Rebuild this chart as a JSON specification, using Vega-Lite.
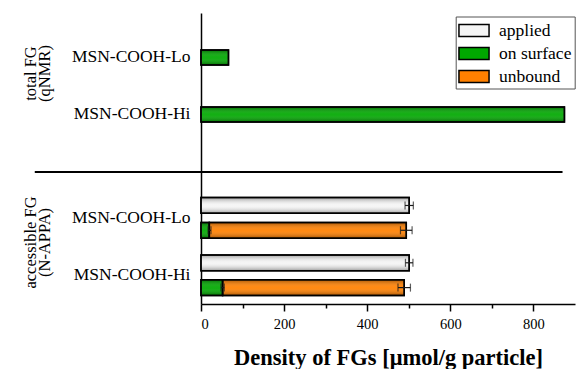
{
  "$schema": "https://vega.github.io/schema/vega-lite/v6.json",
  "padding": {"left": 22, "top": 13, "right": 0, "bottom": 0},
  "spacing": 0,
  "config": {
    "font": "Liberation Serif",
    "view": {"stroke": null},
    "axis": {"labelFont": "Liberation Serif", "titleFont": "Liberation Serif", "labelColor": "black", "titleColor": "black", "domainColor": "black", "tickColor": "black", "grid": false},
    "axisY": {"titleFontSize": 16.5, "titleFontWeight": "normal", "titleLineHeight": 14},
    "legend": {"labelFont": "Liberation Serif", "labelFontSize": 17.5, "labelColor": "black", "labelLimit": 300},
    "style": {"guide-label": {"font": "Liberation Serif"}, "guide-title": {"font": "Liberation Serif"}}
  },
  "resolve": {"scale": {"y": "independent", "color": "independent"}, "legend": {"color": "independent"}},
  "vconcat": [
    {
      "width": 374,
      "height": 158,
      "data": {"values": [
        {"sample": "MSN-COOH-Lo", "part": "on surface", "value": 65},
        {"sample": "MSN-COOH-Hi", "part": "on surface", "value": 860}
      ]},
      "layer": [
        {
          "mark": {"type": "bar", "stroke": "black", "strokeWidth": 1.5},
          "encoding": {
            "y": {"field": "sample", "type": "nominal", "sort": ["MSN-COOH-Lo", "MSN-COOH-Hi"],
              "scale": {"paddingInner": 0.737, "paddingOuter": 0.754, "align": 0.43},
              "axis": {"title": ["total FG", "(qNMR)"], "titleFontSize": 16.5, "titleFontWeight": "normal", "titleLineHeight": 14, "titlePadding": 19, "titleY": 60, "ticks": false, "labelFontSize": 17.5, "labelPadding": 11, "domainWidth": 1.5}},
            "x": {"field": "value", "type": "quantitative", "scale": {"domain": [0, 885]}, "axis": null},
            "color": {"field": "part", "type": "nominal",
              "scale": {"domain": ["applied", "on surface", "unbound"], "range": ["#f4f4f4", "#00a800", "#ff8000"]},
              "legend": {"orient": "none", "legendX": 254.7, "legendY": 3.5, "title": null, "strokeColor": "#555555", "fillColor": "white", "padding": 2.5,
                "symbolType": "M-1.4,-0.56H1.4V0.56H-1.4Z", "symbolSize": 462, "symbolStrokeColor": "black", "symbolStrokeWidth": 1.5, "symbolOffset": 4.3, "symbolOpacity": 1,
                "labelOffset": 13.5, "labelFontSize": 17.5, "labelFont": "Liberation Serif", "labelColor": "black", "rowPadding": 2, "labelLimit": 300,
                "encode": {"labels": {"update": {"font": {"value": "Liberation Serif"}, "fontSize": {"value": 17.5}, "fill": {"value": "black"}}}}}}
          }
        },
        {
          "mark": {"type": "bar", "stroke": "black", "strokeWidth": 1.5,
            "fill": {"gradient": "linear", "x1": 0, "y1": 0, "x2": 0, "y2": 1, "stops": [
              {"offset": 0, "color": "rgba(0,0,0,0.35)"},
              {"offset": 0.45, "color": "rgba(255,255,255,0.08)"},
              {"offset": 0.55, "color": "rgba(255,255,255,0.08)"},
              {"offset": 1, "color": "rgba(0,0,0,0.35)"}]}},
          "encoding": {
            "y": {"field": "sample", "type": "nominal", "sort": ["MSN-COOH-Lo", "MSN-COOH-Hi"]},
            "x": {"field": "value", "type": "quantitative", "scale": {"domain": [0, 885]}, "axis": null}
          }
        }
      ]
    },
    {
      "width": 374,
      "height": 132,
      "layer": [
        {
          "data": {"values": [
            {"sample": "MSN-COOH-Lo", "row": "applied", "part": "applied", "value": 501},
            {"sample": "MSN-COOH-Lo", "row": "found", "part": "on surface", "value": 20},
            {"sample": "MSN-COOH-Lo", "row": "found", "part": "unbound", "value": 474},
            {"sample": "MSN-COOH-Hi", "row": "applied", "part": "applied", "value": 501},
            {"sample": "MSN-COOH-Hi", "row": "found", "part": "on surface", "value": 52},
            {"sample": "MSN-COOH-Hi", "row": "found", "part": "unbound", "value": 437}
          ]},
          "transform": [{"stack": "value", "groupby": ["sample", "row"], "sort": [{"field": "part", "order": "ascending"}], "as": ["v0", "v1"]}],
          "layer": [
            {
              "mark": {"type": "bar", "stroke": "black", "strokeWidth": 1.5},
              "encoding": {
                "y": {"field": "sample", "type": "nominal", "sort": ["MSN-COOH-Lo", "MSN-COOH-Hi"],
                  "scale": {"paddingInner": 0.293, "paddingOuter": 0.298, "align": 0.75},
                  "axis": {"title": ["accessible FG", "(N-APPA)"], "titleFontSize": 16.5, "titleFontWeight": "normal", "titleLineHeight": 14, "titlePadding": 19, "titleY": 70, "ticks": false, "labelFontSize": 17.5, "labelPadding": 11, "domainWidth": 1.5}},
                "yOffset": {"field": "row", "type": "nominal", "sort": ["applied", "found"], "scale": {"paddingInner": 0.367, "paddingOuter": 0}},
                "x": {"field": "v0", "type": "quantitative", "scale": {"domain": [0, 885]},
                  "axis": {"title": "Density of FGs [μmol/g particle]", "values": [0, 100, 200, 300, 400, 500, 600, 700, 800],
                    "labelExpr": "datum.value % 200 === 0 ? datum.label : ''",
                    "tickSize": {"condition": {"test": "datum.value % 200 === 0", "value": 7}, "value": 4},
                    "tickWidth": 1.5, "domainWidth": 1.5, "labelFontSize": 14.5, "labelPadding": 6,
                    "titleFontSize": 22.5, "titleFontWeight": "bold", "titlePadding": 16}},
                "x2": {"field": "v1"},
                "color": {"field": "part", "type": "nominal",
                  "scale": {"domain": ["applied", "on surface", "unbound"], "range": ["#f4f4f4", "#00a800", "#ff8000"]},
                  "legend": null}
              }
            },
            {
              "mark": {"type": "bar", "stroke": "black", "strokeWidth": 1.5,
                "fill": {"gradient": "linear", "x1": 0, "y1": 0, "x2": 0, "y2": 1, "stops": [
                  {"offset": 0, "color": "rgba(0,0,0,0.35)"},
                  {"offset": 0.45, "color": "rgba(255,255,255,0.08)"},
                  {"offset": 0.55, "color": "rgba(255,255,255,0.08)"},
                  {"offset": 1, "color": "rgba(0,0,0,0.35)"}]}},
              "encoding": {
                "y": {"field": "sample", "type": "nominal", "sort": ["MSN-COOH-Lo", "MSN-COOH-Hi"]},
                "yOffset": {"field": "row", "type": "nominal", "sort": ["applied", "found"]},
                "x": {"field": "v0", "type": "quantitative"},
                "x2": {"field": "v1"}
              }
            }
          ]
        },
        {
          "data": {"values": [
            {"sample": "MSN-COOH-Lo", "row": "applied", "lo": 491, "hi": 511},
            {"sample": "MSN-COOH-Lo", "row": "found", "lo": 480, "hi": 508},
            {"sample": "MSN-COOH-Lo", "row": "found", "lo": 17, "hi": 24},
            {"sample": "MSN-COOH-Hi", "row": "applied", "lo": 492, "hi": 510},
            {"sample": "MSN-COOH-Hi", "row": "found", "lo": 474, "hi": 504},
            {"sample": "MSN-COOH-Hi", "row": "found", "lo": 48, "hi": 56}
          ]},
          "layer": [
            {
              "mark": {"type": "rule", "color": "#1a1a1a", "strokeWidth": 1.2},
              "encoding": {
                "y": {"field": "sample", "type": "nominal", "sort": ["MSN-COOH-Lo", "MSN-COOH-Hi"]},
                "yOffset": {"field": "row", "type": "nominal", "sort": ["applied", "found"]},
                "x": {"field": "lo", "type": "quantitative"},
                "x2": {"field": "hi"}
              }
            },
            {
              "mark": {"type": "tick", "color": "#1a1a1a", "thickness": 1.2, "size": 8},
              "encoding": {
                "y": {"field": "sample", "type": "nominal", "sort": ["MSN-COOH-Lo", "MSN-COOH-Hi"]},
                "yOffset": {"field": "row", "type": "nominal", "sort": ["applied", "found"]},
                "x": {"field": "lo", "type": "quantitative"}
              }
            },
            {
              "mark": {"type": "tick", "color": "#1a1a1a", "thickness": 1.2, "size": 8},
              "encoding": {
                "y": {"field": "sample", "type": "nominal", "sort": ["MSN-COOH-Lo", "MSN-COOH-Hi"]},
                "yOffset": {"field": "row", "type": "nominal", "sort": ["applied", "found"]},
                "x": {"field": "hi", "type": "quantitative"}
              }
            }
          ]
        },
        {
          "data": {"values": [{"from": -400, "to": 870}]},
          "mark": {"type": "rule", "color": "black", "strokeWidth": 2, "clip": false},
          "encoding": {
            "x": {"field": "from", "type": "quantitative"},
            "x2": {"field": "to"},
            "y": {"value": 0}
          }
        }
      ]
    }
  ]
}
